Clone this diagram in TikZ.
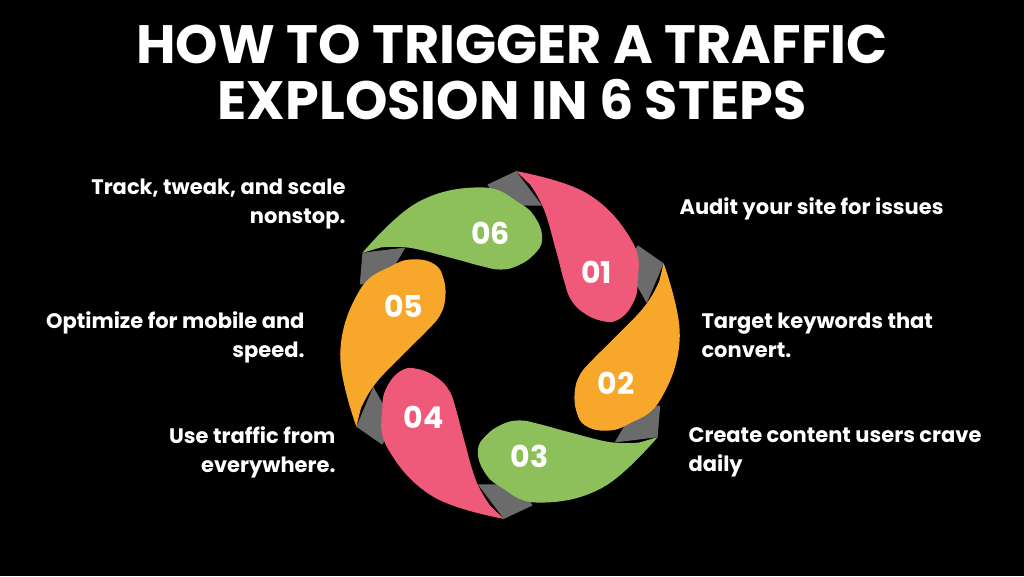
\documentclass[tikz,border=0pt]{standalone}
\usepackage{fontspec}
\setmainfont{Poppins}
\usetikzlibrary{calc,positioning}
\definecolor{petalpink}{HTML}{EF5A7A}
\definecolor{petalorange}{HTML}{F7A72A}
\definecolor{petalgreen}{HTML}{8DC05A}
\definecolor{foldgray}{HTML}{6B6B6B}
\tikzset{
  steptext/.style={text=white,font=\fontsize{21}{29}\selectfont\bfseries,align=left},
  numtext/.style={text=white,font=\fontsize{30}{32}\selectfont\bfseries},
  titletext/.style={text=white,font=\fontsize{54}{56}\selectfont\bfseries,align=center}
}
\begin{document}
\begin{tikzpicture}[x=1pt,y=1pt]
    \fill[black] (0,0) rectangle (1024,576);
    \useasboundingbox (0,0) rectangle (1024,576);
    \node[titletext] (title) at (512,504) {HOW TO TRIGGER A TRAFFIC\\EXPLOSION IN 6 STEPS};
    %
    \coordinate (hub) at (510,231);
    \foreach \i in {0,...,5}
      \fill[foldgray,shift={(hub)},rotate=-60*\i] (88:174) -- (98:162) -- (94:140) -- (77:143) -- cycle;
    \foreach \i/\col in {0/petalpink,1/petalorange,2/petalgreen,3/petalpink,4/petalorange,5/petalgreen}
      \fill[\col,shift={(hub)},rotate=-60*\i] plot[smooth,tension=0.7] coordinates
        {(88:174) (63:170) (40:160) (26:142) (18:128) (13:110) (15:94) (24:80) (37:76) (50:84) (64:105) (76:140) (83:162)} -- cycle;
    \foreach \i/\lab in {0/01,1/02,2/03,3/04,4/05,5/06}
      \node[numtext] (n\lab) at ($(hub)+({40-60*\i}:113)$) {\lab};
    %
    \node[steptext,anchor=west] (s1) at (676,367) {Audit your site for issues};
    \node[steptext,anchor=west] (s2) at (698,241) {Target keywords that\\convert.};
    \node[steptext,anchor=west] (s3) at (685,124) {Create content users crave\\daily};
    \node[steptext,anchor=east,align=right] (s4) at (339,124) {Use traffic from\\everywhere.};
    \node[steptext,anchor=east,align=right] (s5) at (308,239) {Optimize for mobile and\\speed.};
    \node[steptext,anchor=east,align=right] (s6) at (349,372) {Track, tweak, and scale\\nonstop.};
\end{tikzpicture}
\end{document}
